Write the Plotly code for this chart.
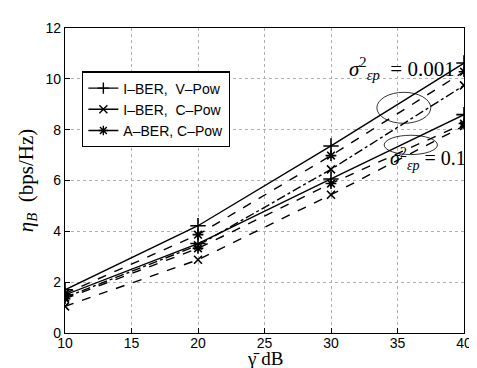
import plotly.graph_objects as go

snr_db = [10, 20, 30, 40]

# sigma^2 = 0.001
iber_vpow_001 = [1.70, 4.22, 7.36, 10.62]
aber_cpow_001 = [1.55, 3.87, 6.98, 10.28]
iber_cpow_001 = [1.40, 3.45, 6.44, 9.74]
# sigma^2 = 0.1
iber_vpow_01 = [1.50, 3.52, 6.06, 8.59]
aber_cpow_01 = [1.35, 3.33, 5.88, 8.24]
iber_cpow_01 = [1.05, 2.88, 5.44, 8.15]

x_ticks = [10, 15, 20, 25, 30, 35, 40]
y_ticks = [0, 2, 4, 6, 8, 10, 12]

legend_names = ["I\u2013BER,  V\u2013Pow", "I\u2013BER,  C\u2013Pow", "A\u2013BER, C\u2013Pow"]
symbols = ["cross-thin", "x-thin", "asterisk"]

fig = go.Figure()

def add(y, dash, sym, size=9):
    fig.add_trace(go.Scatter(
        x=snr_db, y=y, mode="lines+markers", showlegend=False,
        line=dict(color="black", width=1.4, dash=dash),
        marker=dict(symbol=sym, size=size, color="black",
                    line=dict(color="black", width=1.6)),
    ))

add(iber_vpow_001, "solid", "cross-thin", 11)
add(aber_cpow_001, "dash", "asterisk", 9)
add(iber_cpow_001, "dashdot", "x-thin", 8)
add(iber_vpow_01, "solid", "cross-thin", 11)
add(aber_cpow_01, "dash", "asterisk", 9)
add(iber_cpow_01, "dash", "x-thin", 8)

for name, sym in zip(legend_names, symbols):
    fig.add_trace(go.Scatter(
        x=[None], y=[None], mode="lines+markers", name=name,
        line=dict(color="black", width=1.4),
        marker=dict(symbol=sym, size=8, color="black",
                    line=dict(color="black", width=1.4)),
    ))

axis_common = dict(
    showline=True, linecolor="black", linewidth=1.2, mirror=True,
    ticks="inside", ticklen=5, tickcolor="black",
    showgrid=True, gridcolor="#b0b0b0", griddash="dot", gridwidth=1,
    zeroline=False,
    tickfont=dict(family="Liberation Sans, Arial, sans-serif", size=14, color="black"),
)

fig.update_layout(
    width=477, height=368,
    margin=dict(l=57, r=21, t=12, b=43),
    paper_bgcolor="white", plot_bgcolor="white",
    xaxis=dict(range=[10, 40], tickvals=x_ticks, ticklabelstandoff=-3, **axis_common),
    yaxis=dict(range=[0, 12], tickvals=y_ticks, **axis_common,
               title=dict(text="<i>\u03b7</i><sub><i>B</i></sub>  (bps/Hz)", standoff=6,
                          font=dict(family="Liberation Serif, serif", size=21, color="black"))),
    legend=dict(x=0.043, y=0.858, xanchor="left", yanchor="top",
                bgcolor="white", bordercolor="black", borderwidth=1.2,
                font=dict(family="Liberation Sans, Arial, sans-serif", size=14, color="black"),
                tracegroupgap=0, itemwidth=30),
    showlegend=True,
)

fig.add_annotation(x=0.5, y=0, xref="paper", yref="paper", xanchor="center", yanchor="top",
                   yshift=-13, showarrow=False, text="\u03b3\u0304 dB",
                   font=dict(family="Liberation Serif, serif", size=19, color="black"))

fig.add_shape(type="circle", xref="x", yref="y", x0=33.45, x1=37.5, y0=8.25, y1=9.47,
              line=dict(color="black", width=0.8))
fig.add_shape(type="circle", xref="x", yref="y", x0=34.0, x1=38.0, y0=7.02, y1=7.78,
              line=dict(color="black", width=0.8))

# label positions in paper coordinates (data x 31.2 and 34.3 on a 10..40 axis)
fig.add_annotation(x=(31.2 - 10) / 30, y=10.4 / 12, xref="paper", yref="paper",
                   xanchor="left", yanchor="middle", showarrow=False,
                   text="<i>\u03c3</i><sup>2</sup><sub><i>\u03b5p</i></sub>  = 0.001",
                   font=dict(family="Liberation Serif, serif", size=21, color="black"))
fig.add_annotation(x=(34.3 - 10) / 30, y=6.85 / 12, xref="paper", yref="paper",
                   xanchor="left", yanchor="middle", showarrow=False,
                   text="<i>\u03c3</i><sup>2</sup><sub><i>\u03b5p</i></sub> = 0.1",
                   font=dict(family="Liberation Serif, serif", size=20, color="black"))

fig.write_html("out.html")
